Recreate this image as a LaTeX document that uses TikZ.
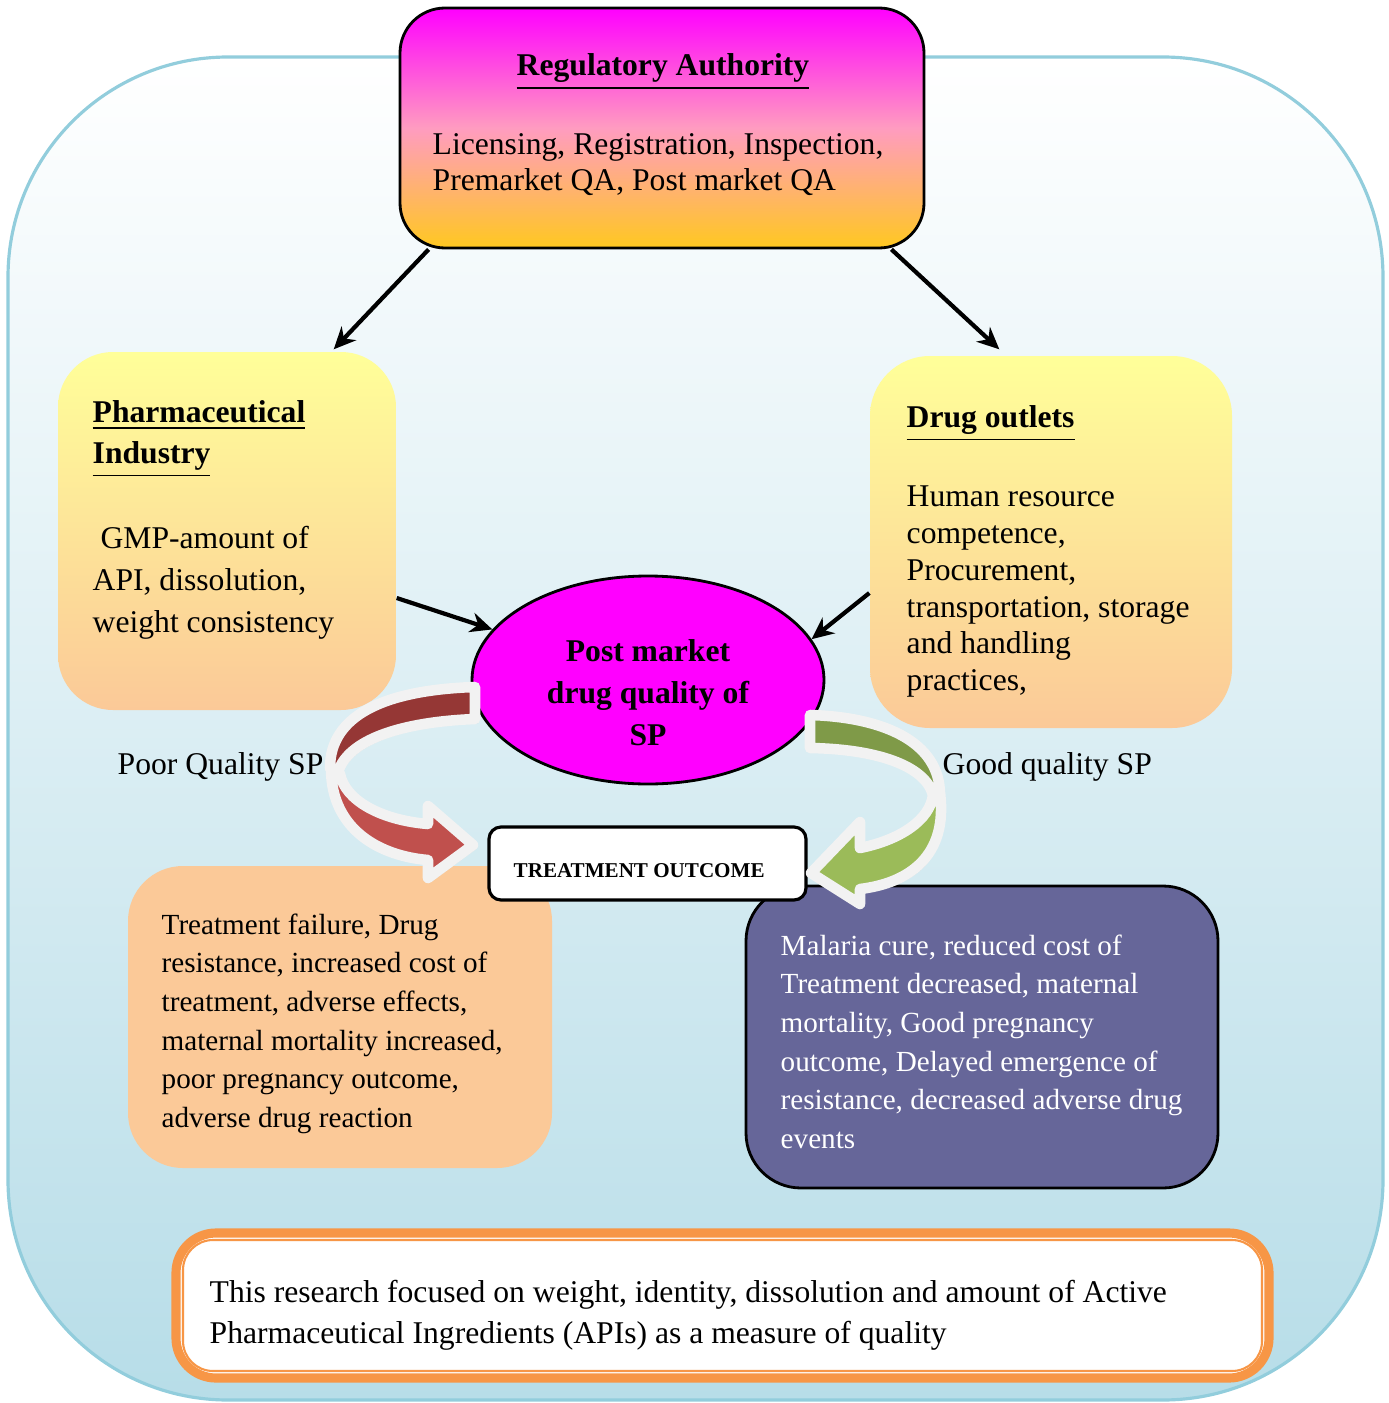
\documentclass[tikz,border=0pt]{standalone}
\usepackage{fontspec}
\setmainfont{Liberation Serif}
\usepackage{tikz}
\usetikzlibrary{arrows.meta,shapes.geometric,shadings}
\definecolor{aoframe}{HTML}{92CDDC}
\definecolor{aosky}{HTML}{B7DDE8}
\definecolor{aomag}{HTML}{FF00FF}
\definecolor{aogold}{HTML}{FFC820}
\definecolor{aopink}{HTML}{FF9CC0}
\definecolor{aolemon}{HTML}{FFFF99}
\definecolor{aopeach}{HTML}{FBC998}
\definecolor{aoplum}{HTML}{666699}
\definecolor{aored1}{HTML}{953735}
\definecolor{aored2}{HTML}{C0504D}
\definecolor{aogrn1}{HTML}{7F9A48}
\definecolor{aogrn2}{HTML}{9BBB59}
\definecolor{aorim}{HTML}{F2F2F2}
\definecolor{aoorange}{HTML}{F79646}

\newcommand{\spfont}[2]{\fontsize{#1}{#2}\selectfont}
% band shapes of the two curved arrows
\newcommand{\poortop}{(4.75,-6.87) .. controls (3.85,-6.90) and (3.30,-7.15) .. (3.30,-7.68) -- (3.38,-7.72) .. controls (3.48,-7.40) and (4.00,-7.22) .. (4.75,-7.19) -- cycle}
\newcommand{\poorlow}{(3.31,-7.70) .. controls (3.32,-8.30) and (3.80,-8.56) .. (4.28,-8.60) -- (4.28,-8.78) -- (4.73,-8.45) -- (4.28,-8.06) -- (4.28,-8.24) .. controls (3.80,-8.20) and (3.45,-8.00) .. (3.40,-7.74) -- cycle}
\newcommand{\goodtop}{(8.10,-7.15) .. controls (8.80,-7.17) and (9.40,-7.40) .. (9.40,-7.95) -- (9.33,-7.95) .. controls (9.25,-7.65) and (8.75,-7.49) .. (8.10,-7.48) -- cycle}
\newcommand{\goodlow}{(9.40,-7.93) .. controls (9.48,-8.55) and (9.10,-8.83) .. (8.60,-8.89) -- (8.60,-9.04) -- (8.11,-8.73) -- (8.60,-8.22) -- (8.60,-8.48) .. controls (9.00,-8.40) and (9.30,-8.20) .. (9.33,-7.95) -- cycle}

\tikzset{
  blob/.style={rectangle, inner sep=0, rounded corners=0.55cm},
  txt/.style={inner sep=0, align=left, anchor=base west, font=\spfont{9}{10.2}},
  link/.style={line width=1.2pt, -{Stealth[length=0.22cm,width=0.2cm]}},
  rim/.style={draw=aorim, line width=3pt, line join=round},
  shade/.style={fill=gray!70, opacity=0.6}
}

\begin{document}
\begin{tikzpicture}
\useasboundingbox (0,0) rectangle (13.88,-14.03);

% frame
\node[blob, rounded corners=2.2cm, minimum width=13.75cm, minimum height=13.43cm,
  top color=white, bottom color=aosky, draw=aoframe, line width=0.9pt] (bg) at (6.955,-7.285) {};

% boxes
\node[blob, rounded corners=0.45cm, minimum width=5.24cm, minimum height=2.40cm,
  top color=aomag, bottom color=aogold, middle color=aopink, draw=black, line width=0.8pt] (ra) at (6.62,-1.28) {};
\node[blob, minimum width=3.38cm, minimum height=3.58cm, top color=aolemon, bottom color=aopeach] (pi) at (2.27,-5.31) {};
\node[blob, rounded corners=0.6cm, minimum width=3.62cm, minimum height=3.72cm, top color=aolemon, bottom color=aopeach] (do) at (10.51,-5.42) {};
\node[blob, minimum width=4.24cm, minimum height=3.02cm, fill=aopeach] (bad) at (3.40,-10.17) {};
\node[blob, minimum width=4.72cm, minimum height=3.02cm, fill=aoplum, draw=black, line width=0.8pt] (good) at (9.82,-10.37) {};
\node[blob, rounded corners=0.12cm, minimum width=3.17cm, minimum height=0.73cm, fill=white, draw=black, line width=0.9pt] (to) at (6.475,-8.635) {};
\node[ellipse, minimum width=3.52cm, minimum height=2.08cm, inner sep=0, fill=aomag, draw=black, line width=0.8pt] (spq) at (6.48,-6.80) {};

% note at the bottom
\node[blob, rounded corners=0.4cm, minimum width=10.93cm, minimum height=1.45cm, fill=white, draw=aoorange, line width=2.6pt] (note) at (7.225,-13.055) {};
\node[blob, rounded corners=0.3cm, minimum width=10.79cm, minimum height=1.31cm, draw=aoorange, line width=0.6pt] (noteline) at (7.225,-13.055) {};

% texts (multi-line nodes sit on their last line)
\node[txt, anchor=base] (ratitle) at (6.63,-0.76) {\underline{\textbf{Regulatory Authority}}};
\node[txt] (ratext) at (4.32,-1.905) {Licensing, Registration, Inspection,\\Premarket QA, Post market QA};
\node[txt, font=\spfont{9}{11.6}] (pititle) at (0.92,-4.635) {\underline{\textbf{Pharmaceutical}}\\\underline{\textbf{Industry}}};
\node[txt, font=\spfont{9}{11.9}] (pitext) at (0.92,-6.325) {\ GMP-amount of\\API, dissolution,\\weight consistency};
\node[txt] (dotitle) at (9.06,-4.275) {\underline{\textbf{Drug outlets}}};
\node[txt, font=\spfont{9}{10.45}] (dotext) at (9.06,-6.905) {Human resource\\competence,\\Procurement,\\transportation, storage\\and handling\\practices,};
\node[txt, anchor=base, align=center, font=\spfont{9}{11.9}\bfseries] (spqtext) at (6.48,-7.455) {Post market\\drug quality of\\SP};
\node[txt] (poor) at (1.17,-7.745) {Poor Quality SP};
\node[txt] (goodlbl) at (9.42,-7.745) {Good quality SP};
\node[txt, font=\spfont{6}{7}\bfseries] (totext) at (5.13,-8.77) {TREATMENT OUTCOME};
\node[txt, font=\spfont{8.3}{11}] (badtext) at (1.61,-11.275) {Treatment failure, Drug\\resistance, increased cost of\\treatment, adverse effects,\\maternal mortality increased,\\poor pregnancy outcome,\\adverse drug reaction};
\node[txt, font=\spfont{8.3}{11}, text=white] (goodtext) at (7.80,-11.485) {Malaria cure, reduced cost of\\Treatment decreased, maternal\\mortality, Good pregnancy\\outcome, Delayed emergence of\\resistance, decreased adverse drug\\events};
\node[txt, font=\spfont{9}{11.6}] (notetext) at (2.09,-13.435) {This research focused on weight, identity, dissolution and amount of Active\\Pharmaceutical Ingredients (APIs) as a measure of quality};

% connectors
\draw[link] ([xshift=0.3cm]ra.south west) -- ([xshift=-0.63cm,yshift=0.02cm]pi.north east);
\draw[link] ([xshift=-0.34cm]ra.south east) -- ([xshift=1.3cm,yshift=0.06cm]do.north west);
\draw[link] ([yshift=-0.67cm]pi.east) -- (spq.162);
\draw[link] ([yshift=-0.51cm]do.west) -- (spq.14);

% curved arrows
\begin{scope}[shift={(0.03,-0.04)}]
  \fill[shade] \poortop;
  \fill[shade] \poorlow;
  \fill[shade] \goodtop;
  \fill[shade] \goodlow;
\end{scope}
\filldraw[rim, fill=aored1] \poortop;
\filldraw[rim, fill=aored2] \poorlow;
\filldraw[rim, fill=aogrn1] \goodtop;
\filldraw[rim, fill=aogrn2] \goodlow;
\end{tikzpicture}
\end{document}
